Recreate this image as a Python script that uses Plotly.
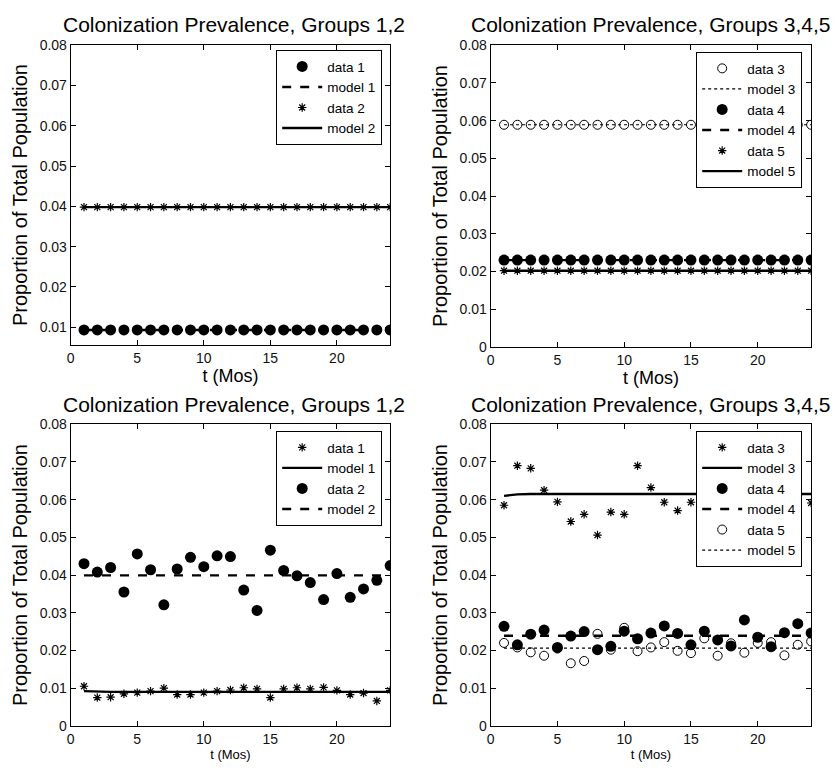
import plotly.graph_objects as go

t = list(range(1, 25))

# ---- Top-left: Groups 1,2 ----
tl_data1 = [0.0093, 0.0093, 0.0093, 0.0093, 0.0093, 0.0093, 0.0093, 0.0093, 0.0093, 0.0093, 0.0093, 0.0093,
            0.0093, 0.0093, 0.0093, 0.0093, 0.0093, 0.0093, 0.0093, 0.0093, 0.0093, 0.0093, 0.0093, 0.0093]
tl_model1 = [0.0093, 0.0093, 0.0093, 0.0093, 0.0093, 0.0093, 0.0093, 0.0093, 0.0093, 0.0093, 0.0093, 0.0093,
             0.0093, 0.0093, 0.0093, 0.0093, 0.0093, 0.0093, 0.0093, 0.0093, 0.0093, 0.0093, 0.0093, 0.0093]
tl_data2 = [0.0398, 0.0398, 0.0398, 0.0398, 0.0398, 0.0398, 0.0398, 0.0398, 0.0398, 0.0398, 0.0398, 0.0398,
            0.0398, 0.0398, 0.0398, 0.0398, 0.0398, 0.0398, 0.0398, 0.0398, 0.0398, 0.0398, 0.0398, 0.0398]
tl_model2 = [0.0398, 0.0398, 0.0398, 0.0398, 0.0398, 0.0398, 0.0398, 0.0398, 0.0398, 0.0398, 0.0398, 0.0398,
             0.0398, 0.0398, 0.0398, 0.0398, 0.0398, 0.0398, 0.0398, 0.0398, 0.0398, 0.0398, 0.0398, 0.0398]

# ---- Top-right: Groups 3,4,5 ----
tr_data3 = [0.0589, 0.0589, 0.0589, 0.0589, 0.0589, 0.0589, 0.0589, 0.0589, 0.0589, 0.0589, 0.0589, 0.0589,
            0.0589, 0.0589, 0.0589, 0.0589, 0.0589, 0.0589, 0.0589, 0.0589, 0.0589, 0.0589, 0.0589, 0.0589]
tr_model3 = [0.0589, 0.0589, 0.0589, 0.0589, 0.0589, 0.0589, 0.0589, 0.0589, 0.0589, 0.0589, 0.0589, 0.0589,
             0.0589, 0.0589, 0.0589, 0.0589, 0.0589, 0.0589, 0.0589, 0.0589, 0.0589, 0.0589, 0.0589, 0.0589]
tr_data4 = [0.0230, 0.0230, 0.0230, 0.0230, 0.0230, 0.0230, 0.0230, 0.0230, 0.0230, 0.0230, 0.0230, 0.0230,
            0.0230, 0.0230, 0.0230, 0.0230, 0.0230, 0.0230, 0.0230, 0.0230, 0.0230, 0.0230, 0.0230, 0.0230]
tr_model4 = [0.0230, 0.0230, 0.0230, 0.0230, 0.0230, 0.0230, 0.0230, 0.0230, 0.0230, 0.0230, 0.0230, 0.0230,
             0.0230, 0.0230, 0.0230, 0.0230, 0.0230, 0.0230, 0.0230, 0.0230, 0.0230, 0.0230, 0.0230, 0.0230]
tr_data5 = [0.0202, 0.0202, 0.0202, 0.0202, 0.0202, 0.0202, 0.0202, 0.0202, 0.0202, 0.0202, 0.0202, 0.0202,
            0.0202, 0.0202, 0.0202, 0.0202, 0.0202, 0.0202, 0.0202, 0.0202, 0.0202, 0.0202, 0.0202, 0.0202]
tr_model5 = [0.0202, 0.0202, 0.0202, 0.0202, 0.0202, 0.0202, 0.0202, 0.0202, 0.0202, 0.0202, 0.0202, 0.0202,
             0.0202, 0.0202, 0.0202, 0.0202, 0.0202, 0.0202, 0.0202, 0.0202, 0.0202, 0.0202, 0.0202, 0.0202]

# ---- Bottom-left: Groups 1,2 (noisy data) ----
bl_data1 = [0.0105, 0.0075, 0.0076, 0.0085, 0.0088, 0.0092, 0.0100, 0.0083, 0.0083, 0.0088, 0.0092, 0.0095,
            0.0101, 0.0098, 0.0075, 0.0098, 0.0101, 0.0098, 0.0102, 0.0094, 0.0083, 0.0087, 0.0066, 0.0094]
bl_model1 = [0.0092, 0.0090, 0.0090, 0.0090, 0.0090, 0.0090, 0.0090, 0.0090, 0.0090, 0.0090, 0.0090, 0.0090,
             0.0090, 0.0090, 0.0090, 0.0090, 0.0090, 0.0090, 0.0090, 0.0090, 0.0090, 0.0090, 0.0090, 0.0090]
bl_data2 = [0.0430, 0.0408, 0.0420, 0.0355, 0.0456, 0.0414, 0.0321, 0.0416, 0.0447, 0.0422, 0.0451, 0.0449,
            0.0360, 0.0306, 0.0466, 0.0412, 0.0398, 0.0380, 0.0335, 0.0404, 0.0341, 0.0363, 0.0386, 0.0425]
bl_model2 = [0.0399, 0.0399, 0.0399, 0.0399, 0.0399, 0.0399, 0.0399, 0.0399, 0.0399, 0.0399, 0.0399, 0.0399,
             0.0399, 0.0399, 0.0399, 0.0399, 0.0399, 0.0399, 0.0399, 0.0399, 0.0399, 0.0399, 0.0399, 0.0399]

# ---- Bottom-right: Groups 3,4,5 (noisy data) ----
br_data3 = [0.0585, 0.0690, 0.0683, 0.0625, 0.0594, 0.0542, 0.0561, 0.0506, 0.0567, 0.0561, 0.0690, 0.0632,
            0.0593, 0.0571, 0.0593, 0.0600, 0.0620, 0.0580, 0.0640, 0.0610, 0.0590, 0.0630, 0.0600, 0.0591]
br_model3 = [0.0610, 0.0614, 0.0615, 0.0615, 0.0615, 0.0615, 0.0615, 0.0615, 0.0615, 0.0615, 0.0615, 0.0615,
             0.0615, 0.0615, 0.0615, 0.0615, 0.0615, 0.0615, 0.0615, 0.0615, 0.0615, 0.0615, 0.0615, 0.0615]
br_data4 = [0.0264, 0.0215, 0.0243, 0.0254, 0.0208, 0.0238, 0.0250, 0.0202, 0.0211, 0.0251, 0.0231, 0.0246,
            0.0265, 0.0245, 0.0215, 0.0251, 0.0228, 0.0212, 0.0281, 0.0235, 0.0210, 0.0247, 0.0271, 0.0246]
br_model4 = [0.0239, 0.0239, 0.0239, 0.0239, 0.0239, 0.0239, 0.0239, 0.0239, 0.0239, 0.0239, 0.0239, 0.0239,
             0.0239, 0.0239, 0.0239, 0.0239, 0.0239, 0.0239, 0.0239, 0.0239, 0.0239, 0.0239, 0.0239, 0.0239]
br_data5 = [0.0220, 0.0208, 0.0195, 0.0186, 0.0205, 0.0166, 0.0172, 0.0244, 0.0202, 0.0260, 0.0198, 0.0208,
            0.0222, 0.0199, 0.0193, 0.0232, 0.0186, 0.0219, 0.0194, 0.0220, 0.0222, 0.0187, 0.0215, 0.0224]
br_model5 = [0.0206, 0.0206, 0.0206, 0.0206, 0.0206, 0.0206, 0.0206, 0.0206, 0.0206, 0.0206, 0.0206, 0.0206,
             0.0206, 0.0206, 0.0206, 0.0206, 0.0206, 0.0206, 0.0206, 0.0206, 0.0206, 0.0206, 0.0206, 0.0206]

title_12 = "Colonization Prevalence, Groups 1,2"
title_345 = "Colonization Prevalence, Groups 3,4,5"
ylabel = "Proportion of Total Population"
xlabel = "t (Mos)"
xtick_vals = [0, 5, 10, 15, 20]
xtick_text = ["0", "5", "10", "15", "20"]
ytick_vals = [0, 0.01, 0.02, 0.03, 0.04, 0.05, 0.06, 0.07, 0.08]
ytick_text = ["0", "0.01", "0.02", "0.03", "0.04", "0.05", "0.06", "0.07", "0.08"]

FONT = "Liberation Sans, Arial, Helvetica, sans-serif"
W, H = 839, 774

def px_x(p):
    return p / W

def px_y(p):
    return 1 - p / H

fig = go.Figure()

def filled(name, y, ax, leg):
    return go.Scatter(x=t, y=y, name=name, mode="markers", xaxis=ax[0], yaxis=ax[1], legend=leg,
                      marker=dict(symbol="circle", size=11, color="black"))

def opencirc(name, y, ax, leg):
    return go.Scatter(x=t, y=y, name=name, mode="markers", xaxis=ax[0], yaxis=ax[1], legend=leg,
                      marker=dict(symbol="circle-open", size=9, color="black", line=dict(width=1)))

def star(name, y, ax, leg):
    return go.Scatter(x=t, y=y, name=name, mode="markers", xaxis=ax[0], yaxis=ax[1], legend=leg,
                      marker=dict(symbol="asterisk-open", size=7, color="black", line=dict(width=1.2, color="black")))

def line(name, y, ax, leg, dash):
    width = 1.2 if dash == "dot" else 2.4
    return go.Scatter(x=t, y=y, name=name, mode="lines", xaxis=ax[0], yaxis=ax[1], legend=leg,
                      line=dict(color="black", width=width, dash=dash))

a1, a2, a3, a4 = ("x", "y"), ("x2", "y2"), ("x3", "y3"), ("x4", "y4")

# top-left
fig.add_trace(filled("data 1", tl_data1, a1, "legend"))
fig.add_trace(line("model 1", tl_model1, a1, "legend", "dash"))
fig.add_trace(star("data 2", tl_data2, a1, "legend"))
fig.add_trace(line("model 2", tl_model2, a1, "legend", "solid"))
# top-right
fig.add_trace(opencirc("data 3", tr_data3, a2, "legend2"))
fig.add_trace(line("model 3", tr_model3, a2, "legend2", "dot"))
fig.add_trace(filled("data 4", tr_data4, a2, "legend2"))
fig.add_trace(line("model 4", tr_model4, a2, "legend2", "dash"))
fig.add_trace(star("data 5", tr_data5, a2, "legend2"))
fig.add_trace(line("model 5", tr_model5, a2, "legend2", "solid"))
# bottom-left
fig.add_trace(star("data 1", bl_data1, a3, "legend3"))
fig.add_trace(line("model 1", bl_model1, a3, "legend3", "solid"))
fig.add_trace(filled("data 2", bl_data2, a3, "legend3"))
fig.add_trace(line("model 2", bl_model2, a3, "legend3", "dash"))
# bottom-right
fig.add_trace(star("data 3", br_data3, a4, "legend4"))
fig.add_trace(line("model 3", br_model3, a4, "legend4", "solid"))
fig.add_trace(filled("data 4", br_data4, a4, "legend4"))
fig.add_trace(line("model 4", br_model4, a4, "legend4", "dash"))
fig.add_trace(opencirc("data 5", br_data5, a4, "legend4"))
fig.add_trace(line("model 5", br_model5, a4, "legend4", "dot"))

panels = {
    # (left, right, top, bottom) in pixels
    1: (67, 388, 38, 344),
    2: (489, 811, 38, 346),
    3: (67, 388, 425, 733),
    4: (489, 811, 425, 733),
}
yranges = {1: [0.0056, 0.08], 2: [0, 0.08], 3: [0, 0.08], 4: [0, 0.08]}
xtitle_size = {1: 18, 2: 18, 3: 13, 4: 13}

layout = dict(
    width=W, height=H, margin=dict(l=0, r=0, t=0, b=0),
    paper_bgcolor="white", plot_bgcolor="white",
    font=dict(family=FONT, color="black", size=13),
    showlegend=True,
)

axis_common = dict(showline=True, linecolor="black", linewidth=1, mirror="ticks",
                   ticks="inside", ticklen=5, tickcolor="black", showgrid=False, zeroline=False,
                   tickfont=dict(family=FONT, size=14, color="#111"))

for k, (l, r, tp, b) in panels.items():
    sx = "xaxis" if k == 1 else f"xaxis{k}"
    sy = "yaxis" if k == 1 else f"yaxis{k}"
    ax_x = "x" if k == 1 else f"x{k}"
    ax_y = "y" if k == 1 else f"y{k}"
    layout[sx] = dict(axis_common, domain=[px_x(l), px_x(r)], anchor=ax_y, range=[0, 24],
                      tickvals=xtick_vals, ticktext=xtick_text,
                      title=dict(text=xlabel, font=dict(size=xtitle_size[k], family=FONT), standoff=2))
    layout[sy] = dict(axis_common, domain=[px_y(b), px_y(tp)], anchor=ax_x, range=yranges[k],
                      tickvals=ytick_vals, ticktext=ytick_text,
                      title=dict(text=ylabel, font=dict(size=20, family=FONT), standoff=6))

legend_pos = {
    "legend": (380, 43),
    "legend2": (802, 45),
    "legend3": (380, 432),
    "legend4": (802, 432),
}
for name, (xr, yt) in legend_pos.items():
    layout[name] = dict(x=px_x(xr), y=px_y(yt), xanchor="right", yanchor="top",
                        xref="paper", yref="paper",
                        bgcolor="white", bordercolor="black", borderwidth=1,
                        font=dict(family=FONT, size=13.5, color="black"),
                        itemwidth=40, tracegroupgap=0)

annotations = []
titles = {1: title_12, 2: title_345, 3: title_12, 4: title_345}
title_y = {1: 17, 2: 17, 3: 405, 4: 405}
for k, (l, r, tp, b) in panels.items():
    annotations.append(dict(text=titles[k], x=px_x((l + r) / 2 + (4 if k in (1, 3) else 0)), y=px_y(title_y[k]),
                            xref="paper", yref="paper", xanchor="center", yanchor="middle",
                            showarrow=False, font=dict(family=FONT, size=21, color="black")))
layout["annotations"] = annotations

fig.update_layout(**layout)
fig.write_html("out.html")
